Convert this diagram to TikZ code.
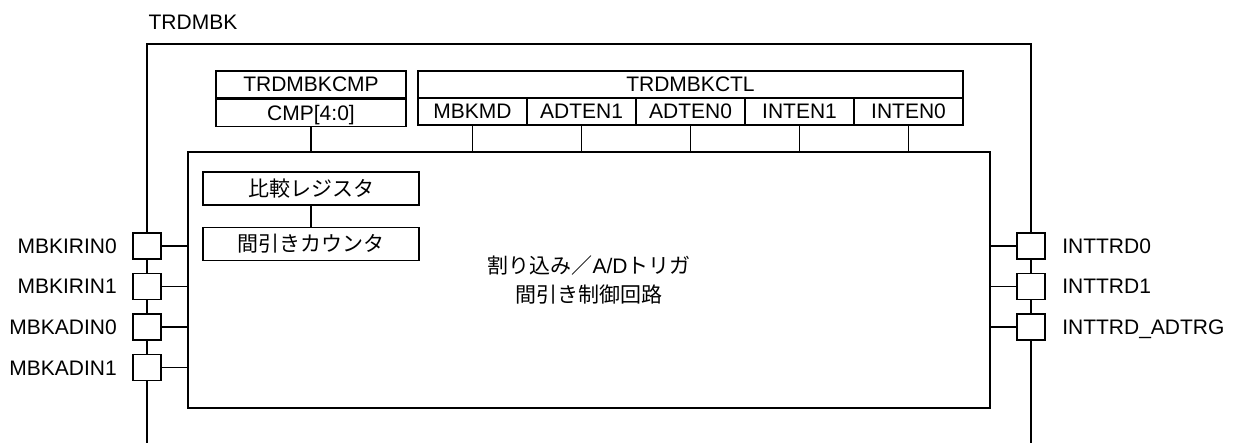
\documentclass[tikz,border=0pt]{standalone}
\usepackage{fontspec}
\setmainfont{Liberation Sans}
\newfontfamily\jp{Noto Sans CJK JP}
\usetikzlibrary{positioning}
\newcommand{\pinbox}[3]{\node[pinsq] (#1) at (#2,#3) {}}
\newcommand{\tie}[2]{\draw (#1) -- (#2)}

\begin{document}
\begin{tikzpicture}[x=1pt,y=-1pt,line width=1.3pt,
	font=\fontsize{21}{25}\selectfont,
	pinsq/.style={draw,fill=white,minimum width=28pt,minimum height=26pt,inner sep=0pt},
	pinlbl/.style={inner sep=0pt,text height=15pt,text depth=0pt},
	reg/.style={draw,minimum height=27pt,inner sep=0pt,text height=15pt,text depth=0pt},
	cntbox/.style={draw,minimum width=216pt,minimum height=33pt,inner sep=0pt}]
	\useasboundingbox (0,0) rectangle (1233,443);
	% outer block
	\coordinate (bl) at (147,443);
	\coordinate (br) at (1031,443);
	\draw (bl) |- (1031,44) -- (br);
	\node[pinlbl,anchor=west] (blk) at (148,22) {TRDMBK};
	% control circuit
	\node[draw,minimum width=802pt,minimum height=256pt,align=center,
		font=\fontsize{21}{29}\selectfont] (ctrl) at (589,280)
		{{\jp 割り込み／}A/D{\jp トリガ}\\{\jp 間引き制御回路}};
	\node[cntbox] (cmpreg) at (311,188.5) {\jp 比較レジスタ};
	\node[cntbox,below=21pt of cmpreg] (cnt) {\jp 間引きカウンタ};
	\tie{cmpreg.south}{cnt.north};
	% registers
	\node[reg,minimum width=190pt] (cmp) at (311,84.5) {TRDMBKCMP};
	\node[reg,minimum width=190pt,below=0pt of cmp] (cmpfld) {CMP[4:0]};
	\tie{cmpfld.south}{cmpfld.south |- ctrl.north};
	\node[reg,minimum width=545pt] (ctl) at (690.5,84.5) {TRDMBKCTL};
	\foreach \fld [count=\i] in {MBKMD,ADTEN1,ADTEN0,INTEN1,INTEN0} {
		\node[reg,minimum width=109pt] (f\i) at ({363.5+109*\i},111.5) {\fld};
		\tie{f\i.south}{f\i.south |- ctrl.north};
	}
	% pins
	\foreach \nm/\yy [count=\i] in {MBKIRIN0/246,MBKIRIN1/286.5,MBKADIN0/327,MBKADIN1/367.5} {
		\pinbox{pl\i}{147}{\yy};
		\node[pinlbl,left=15pt of pl\i] (ll\i) {\nm};
		\tie{pl\i.east}{pl\i.east -| ctrl.west};
	}
	\foreach \nm/\yy [count=\i] in {INTTRD0/246,INTTRD1/286.5,INTTRD\_ADTRG/327} {
		\pinbox{pr\i}{1031}{\yy};
		\node[pinlbl,right=16pt of pr\i] (lr\i) {\nm};
		\tie{pr\i.west}{pr\i.west -| ctrl.east};
	}
\end{tikzpicture}
\end{document}
